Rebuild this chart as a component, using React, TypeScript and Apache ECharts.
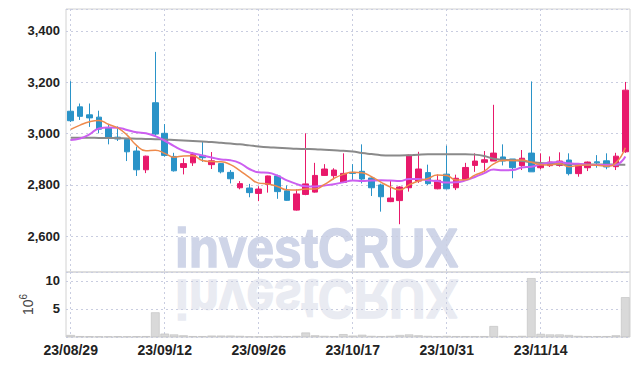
import React, { useEffect, useRef } from "react";
import * as echarts from "echarts";

const dates = [
  "23/08/29","23/08/30","23/08/31","23/09/01","23/09/04","23/09/05","23/09/06","23/09/07","23/09/08","23/09/11",
  "23/09/12","23/09/13","23/09/14","23/09/15","23/09/18","23/09/19","23/09/20","23/09/21","23/09/22","23/09/25",
  "23/09/26","23/09/27","23/10/04","23/10/05","23/10/06","23/10/10","23/10/11","23/10/12","23/10/13","23/10/16",
  "23/10/17","23/10/18","23/10/19","23/10/20","23/10/23","23/10/24","23/10/25","23/10/26","23/10/27","23/10/30",
  "23/10/31","23/11/01","23/11/02","23/11/03","23/11/06","23/11/07","23/11/08","23/11/09","23/11/10","23/11/13",
  "23/11/14","23/11/15","23/11/16","23/11/17","23/11/20","23/11/21","23/11/22","23/11/23","23/11/24","23/11/27",
];

const opens = [
  3087,3104,3073,3064,3023,2986,2977,2932,2859,3120,
  3001,2911,2868,2886,2915,2879,2883,2849,2789,2788,
  2767,2802,2835,2777,2702,2763,2772,2837,2836,2810,
  2849,2853,2827,2800,2735,2739,2789,2815,2848,2785,
  2842,2789,2822,2876,2888,2893,2909,2901,2875,2924,
  2867,2875,2876,2897,2844,2867,2890,2894,2871,2929,
];
const closes = [
  3050,3067,3061,3017,2985,2979,2929,2859,2912,2998,
  2915,2855,2883,2918,2906,2894,2851,2824,2805,2770,
  2784,2835,2774,2740,2765,2804,2837,2862,2858,2845,
  2845,2823,2789,2754,2749,2792,2916,2862,2805,2818,
  2785,2826,2868,2893,2898,2924,2893,2867,2904,2851,
  2880,2889,2893,2844,2875,2889,2886,2870,2912,3169,
];
const lows = [
  3045,3053,3026,3001,2958,2971,2893,2835,2846,2988,
  2910,2852,2841,2874,2890,2862,2845,2806,2783,2752,
  2737,2770,2746,2738,2700,2760,2770,2835,2822,2808,
  2819,2806,2757,2696,2733,2647,2774,2808,2800,2783,
  2783,2780,2820,2851,2850,2893,2876,2826,2858,2851,
  2861,2870,2871,2837,2832,2854,2867,2861,2858,2925,
];
const highs = [
  3204,3117,3117,3089,3037,3028,2983,2949,2914,3318,
  3037,2925,2904,2927,2967,2928,2885,2858,2815,2804,
  2795,2836,2840,2798,2783,3001,2886,2881,2865,2923,
  2881,2958,2830,2805,2816,2795,2918,2929,2879,2841,
  2953,2840,2886,2923,2932,3112,2958,2901,2936,3203,
  2923,2911,2927,2923,2877,2891,2916,2923,2925,3201,
];

// moving averages
const ma5 = [
  3016,3033,3046,3051,3036,3022,2994,2954,2933,2935,
  2923,2908,2913,2914,2895,2891,2890,2879,2856,2829,
  2807,2804,2794,2781,2780,2784,2784,2802,2825,2841,
  2849,2847,2832,2811,2792,2781,2800,2815,2825,2839,
  2837,2819,2820,2838,2854,2882,2895,2895,2897,2888,
  2879,2878,2883,2871,2876,2878,2877,2873,2886,2945,
];
const ma10 = [
  2975,2981,2997,3020,3024,3023,3014,3005,3001,2990,
  2972,2951,2933,2923,2915,2907,2899,2896,2885,2862,
  2849,2847,2836,2818,2804,2795,2794,2798,2803,2810,
  2817,2815,2817,2818,2817,2815,2823,2823,2818,2815,
  2809,2810,2818,2831,2846,2860,2857,2858,2868,2871,
  2880,2887,2889,2884,2882,2879,2878,2878,2879,2911,
];
const ma60 = [
  2984,2984,2984,2983,2983,2982,2981,2980,2979,2978,
  2977,2975,2973,2971,2969,2967,2964,2961,2958,2954,
  2950,2947,2945,2943,2941,2940,2939,2937,2935,2933,
  2930,2924,2920,2916,2915,2915,2916,2918,2919,2919,
  2919,2919,2919,2918,2913,2902,2898,2896,2893,2889,
  2885,2883,2881,2881,2880,2880,2880,2880,2879,2879,
];

// volume, millions of shares
const volumes = [
  0.35,0.15,0.12,0.1,0.1,0.12,0.1,0.12,0.15,4.4,
  0.6,0.45,0.3,0.15,0.15,0.25,0.25,0.25,0.2,0.1,
  0.1,0.1,0.2,0.15,0.2,0.8,0.3,0.2,0.15,0.5,
  0.25,0.4,0.2,0.15,0.2,0.35,0.45,0.3,0.2,0.15,
  0.2,0.15,0.15,0.15,0.15,1.95,0.2,0.15,0.2,10.5,
  0.55,0.45,0.45,0.35,0.2,0.15,0.15,0.15,0.3,7.1,
];

const UP = "#e8196b";
const DOWN = "#2a93c8";
const LABEL_FONT = "'Liberation Sans', Arial, sans-serif";
const WM_FONT = "bold 55px 'Liberation Sans', Arial, sans-serif";

export default function App() {
  const ref = useRef<HTMLDivElement>(null);
  useEffect(() => {
    if (!ref.current) return;
    const chart = echarts.init(ref.current, null, { renderer: "svg" });
    const candleData = opens.map((o, i) => [o, closes[i], lows[i], highs[i]]);
    const splitLineStyle = { color: "#c9cde0", type: [2, 3] as any, width: 1 };
    chart.setOption({
      animation: false,
      backgroundColor: "#ffffff",
      graphic: [
        {
          type: "text",
          x: 175,
          y: 248,
          scaleX: 0.9,
          z: -10,
          silent: true,
          style: {
            text: "investCRUX",
            font: WM_FONT,
            fill: "#cfd5e8",
            stroke: "#cfd5e8",
            lineWidth: 1.5,
            verticalAlign: "middle",
          },
        },
        {
          type: "text",
          x: 175,
          y: 299,
          scaleX: 0.9,
          scaleY: -1,
          z: -10,
          silent: true,
          style: {
            text: "investCRUX",
            font: WM_FONT,
            fill: "#e9ebf2",
            stroke: "#e9ebf2",
            lineWidth: 1.5,
            verticalAlign: "middle",
          },
        },
      ],
      grid: [
        { left: 66, right: 9, top: 9, height: 263, show: true, borderColor: "#d2d2d2", borderWidth: 1, backgroundColor: "transparent" },
        { left: 66, right: 9, top: 272, height: 65, show: true, borderColor: "#d2d2d2", borderWidth: 1, backgroundColor: "transparent" },
      ],
      xAxis: [
        {
          type: "category",
          gridIndex: 0,
          data: dates,
          boundaryGap: true,
          axisLine: { show: false },
          axisTick: { show: false },
          axisLabel: { show: false, interval: 9 },
          splitLine: { show: true, interval: 9, alignWithLabel: true, lineStyle: splitLineStyle },
        },
        {
          type: "category",
          gridIndex: 1,
          data: dates,
          boundaryGap: true,
          axisLine: { show: false },
          axisTick: { show: false },
          axisLabel: {
            show: true,
            interval: 9,
            margin: 6,
            color: "#222",
            fontFamily: LABEL_FONT,
            fontWeight: "bold",
            fontSize: 14,
          },
          splitLine: { show: true, interval: 9, alignWithLabel: true, lineStyle: splitLineStyle },
        },
      ],
      yAxis: [
        {
          type: "value",
          gridIndex: 0,
          min: 2461,
          max: 3485,
          splitNumber: 5,
          axisLine: { show: false },
          axisTick: { show: false },
          axisLabel: {
            showMinLabel: false,
            showMaxLabel: false,
            margin: 6,
            color: "#222",
            fontFamily: LABEL_FONT,
            fontWeight: "bold",
            fontSize: 13,
            formatter: (v: number) => v.toLocaleString("en-US"),
          },
          splitLine: { show: true, lineStyle: splitLineStyle },
        },
        {
          type: "value",
          gridIndex: 1,
          min: 0,
          max: 11.6,
          interval: 5,
          name: "{a|10}{b|6}",
          nameLocation: "middle",
          nameRotate: 90,
          nameGap: 24,
          nameTextStyle: {
            color: "#444",
            fontFamily: "'Liberation Sans', sans-serif",
            rich: {
              a: { color: "#444", fontSize: 14, fontFamily: "'Liberation Sans', sans-serif", verticalAlign: "bottom" },
              b: { color: "#444", fontSize: 10, fontFamily: "'Liberation Sans', sans-serif", verticalAlign: "top", padding: [0, 0, 6, 0] },
            },
          },
          axisLine: { show: false },
          axisTick: { show: false },
          axisLabel: {
            showMinLabel: false,
            showMaxLabel: false,
            margin: 6,
            color: "#222",
            fontFamily: LABEL_FONT,
            fontWeight: "bold",
            fontSize: 13,
          },
          splitLine: { show: true, lineStyle: splitLineStyle },
        },
      ],
      series: [
        {
          type: "candlestick",
          xAxisIndex: 0,
          yAxisIndex: 0,
          data: candleData,
          barWidth: 6,
          itemStyle: { color: UP, color0: DOWN, borderColor: UP, borderColor0: DOWN, borderWidth: 1 },
        },
        {
          type: "line",
          xAxisIndex: 0,
          yAxisIndex: 0,
          data: ma60,
          smooth: true,
          symbol: "none",
          lineStyle: { color: "#8a8a8a", width: 2 },
        },
        {
          type: "line",
          xAxisIndex: 0,
          yAxisIndex: 0,
          data: ma10,
          smooth: true,
          symbol: "none",
          lineStyle: { color: "#cc5ff0", width: 2 },
        },
        {
          type: "line",
          xAxisIndex: 0,
          yAxisIndex: 0,
          data: ma5,
          smooth: true,
          symbol: "none",
          lineStyle: { color: "#ee8a4c", width: 1.5 },
        },
        {
          type: "bar",
          xAxisIndex: 1,
          yAxisIndex: 1,
          data: volumes,
          barCategoryGap: "8%",
          itemStyle: { color: "#d9d9d9", borderColor: "#bdbdbd", borderWidth: 0.6 },
        },
      ],
    });
    return () => chart.dispose();
  }, []);
  return (
    <div
      ref={ref}
      style={{ position: "fixed", left: 0, top: 0, width: 639, height: 366, background: "#fff" }}
    />
  );
}
